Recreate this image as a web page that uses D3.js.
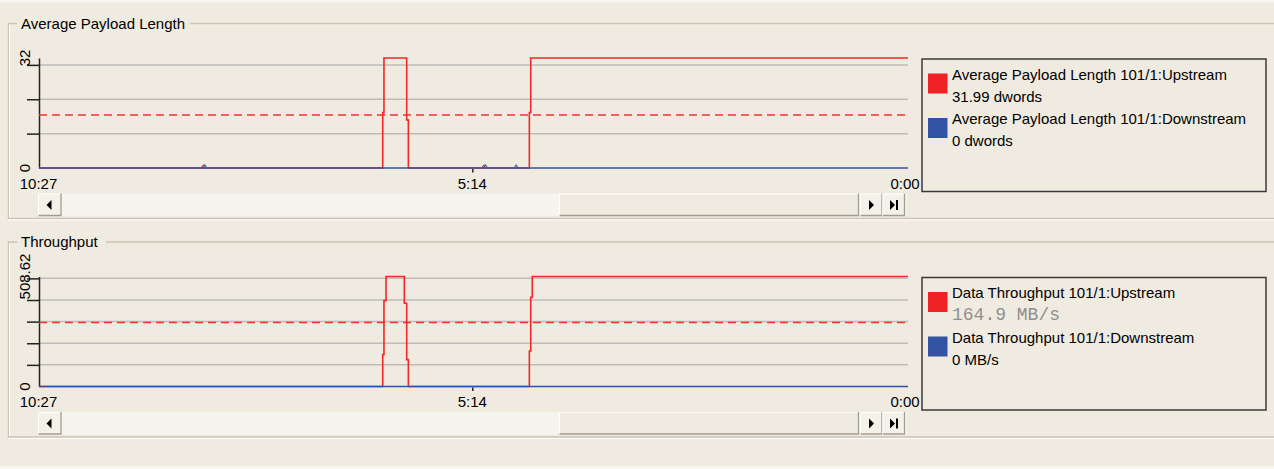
<!DOCTYPE html>
<html>
<head>
<meta charset="utf-8">
<script src="https://cdn.jsdelivr.net/npm/d3@7"></script>
<style>
  html, body { margin: 0; padding: 0; background: #f0ebe0; }
  svg { display: block; font-family: "Liberation Sans", Arial, sans-serif; }
</style>
</head>
<body>
<script>
// time span in seconds shown on the strip chart (labels count down to 0:00)
const spanSeconds = 627;
const timeTicks = [0, 313, 627];

// Average Payload Length panel (dwords)
const payloadMax = 32;
const payloadGrid = [10, 20, 30];
const payloadUpT = [0, 248.0, 248.9, 265.3, 266.5, 353.8, 354.8, 627];
const payloadUpV = [0, 16.1, 32, 14.0, 0, 16.1, 32, 32];
const payloadDownT = [0, 627];
const payloadDownV = [0, 0];
const payloadAvg = 15.4;
const payloadMarks = [119.3, 321.8, 343.9];
const payloadMarkUp = [true, true, false];

// Throughput panel (MB/s)
const thruMax = 508.62;
const thruGrid = [100, 200, 300, 400, 500];
const thruUpT = [0, 248.0, 248.9, 250.4, 263.6, 265.3, 266.5, 353.8, 354.8, 355.9, 627];
const thruUpV = [0, 147.5, 397, 508.62, 384.8, 124.2, 0, 164.3, 412.8, 508.62, 508.62];
const thruDownT = [0, 627];
const thruDownV = [0, 0];
const thruAvg = 296;

const panels = [
  {
    title: "Average Payload Length", titleW: 173, top: 0, max: payloadMax, maxLabel: "32", grid: payloadGrid,
    up: d3.zip(payloadUpT, payloadUpV), down: d3.zip(payloadDownT, payloadDownV), avg: payloadAvg,
    marks: payloadMarks, markUp: payloadMarkUp,
    legend: [
      { color: "#ee2222", name: "Average Payload Length 101/1:Upstream", value: "31.99 dwords", mono: false },
      { color: "#3352a3", name: "Average Payload Length 101/1:Downstream", value: "0 dwords", mono: false }
    ]
  },
  {
    title: "Throughput", titleW: 89, top: 218.5, max: thruMax, maxLabel: "508.62", grid: thruGrid,
    up: d3.zip(thruUpT, thruUpV), down: d3.zip(thruDownT, thruDownV), avg: thruAvg,
    marks: [], markUp: [],
    legend: [
      { color: "#ee2222", name: "Data Throughput 101/1:Upstream", value: "164.9 MB/s", mono: true },
      { color: "#3352a3", name: "Data Throughput 101/1:Downstream", value: "0 MB/s", mono: false }
    ]
  }
];

const width = 1274, height = 469;
const svg = d3.select("body").append("svg")
  .attr("width", width).attr("height", height);

svg.append("rect").attr("width", width).attr("height", height).attr("fill", "#f0ebe0");
svg.append("line").attr("x1", 0).attr("x2", width).attr("y1", 1).attr("y2", 1)
  .attr("stroke", "#f8f6f1").attr("stroke-width", 3);

const x = d3.scaleLinear().domain([0, spanSeconds]).range([39, 908]);
const fmt = t => {
  const s = spanSeconds - t;
  return Math.floor(s / 60) + ":" + d3.format("02d")(s % 60);
};

function raisedBox(g, x0, y0, w, h, face) {
  g.append("rect").attr("x", x0).attr("y", y0).attr("width", w).attr("height", h).attr("fill", face);
  g.append("path").attr("d", `M${x0 + 0.5},${y0 + h}V${y0 + 0.5}H${x0 + w}`)
    .attr("fill", "none").attr("stroke", "#ffffff");
  g.append("path").attr("d", `M${x0 + 0.5},${y0 + h - 0.5}H${x0 + w - 0.5}V${y0}`)
    .attr("fill", "none").attr("stroke", "#a29f90").attr("stroke-width", 1.3);
}

panels.forEach(p => {
  const g = svg.append("g").attr("transform", `translate(0,${p.top})`);
  const y = d3.scaleLinear().domain([0, p.max]).range([168, 58]);

  // group box frame
  const frame = g.append("g").attr("fill", "none");
  frame.append("path")
    .attr("d", `M17,23.5H8.5V218.5H${width}M${17 + p.titleW},23.5H${width}`)
    .attr("stroke", "#c9c5b6").attr("stroke-width", 1.5);
  frame.append("path")
    .attr("d", `M9.5,25V217.5M8,220H${width}`)
    .attr("stroke", "#ffffff").attr("stroke-width", 1);
  g.append("text").attr("x", 21).attr("y", 28.5)
    .attr("font-size", 15).attr("fill", "#000").text(p.title);

  // gridlines
  g.append("g").selectAll("line").data(p.grid).join("line")
    .attr("x1", 39).attr("x2", 908)
    .attr("y1", d => y(d)).attr("y2", d => y(d))
    .attr("stroke", "#bdbcb8").attr("stroke-width", 1.5);

  // y axis
  const axis = g.append("g").attr("transform", "translate(39,0)")
    .call(d3.axisLeft(y).tickValues(p.grid).tickSize(12).tickSizeOuter(0).tickFormat(""));
  axis.select(".domain").attr("stroke", "#222").attr("stroke-width", 1.5);
  axis.selectAll(".tick line").attr("stroke", "#222").attr("stroke-width", 1.5);

  g.append("text")
    .attr("transform", `translate(29.5,${y(p.max)}) rotate(-90)`)
    .attr("text-anchor", "middle").attr("font-size", 15).text(p.maxLabel);
  g.append("text")
    .attr("transform", `translate(29.5,${y(0)}) rotate(-90)`)
    .attr("text-anchor", "middle").attr("font-size", 15).text("0");

  // average dashed line
  g.append("line")
    .attr("x1", 39).attr("x2", 908)
    .attr("y1", y(p.avg)).attr("y2", y(p.avg))
    .attr("stroke", "#ee3333").attr("stroke-width", 1.5)
    .attr("stroke-dasharray", "8,5");

  const line = d3.line().x(d => x(d[0])).y(d => y(d[1])).curve(d3.curveStepAfter);
  g.append("path").datum(p.up).attr("d", line)
    .attr("fill", "none").attr("stroke", "#f02828").attr("stroke-width", 1.6);

  // little event marks sitting on the baseline
  const mk = g.append("g").selectAll("g").data(p.marks).join("g")
    .attr("transform", d => `translate(${x(d)},${y(0) - 1})`);
  mk.filter((d, i) => p.markUp[i]).append("path")
    .attr("d", "M-2.5,1A2.5,2.5 0 0 1 1,-1.5")
    .attr("fill", "none").attr("stroke", "#e23030").attr("stroke-width", 1.3);
  mk.append("path").attr("d", "M-1.5,1L0.5,-2L2.5,1")
    .attr("fill", "none").attr("stroke", "#3a58b0").attr("stroke-width", 1.1);

  g.append("path").datum(p.down).attr("d", line)
    .attr("fill", "none").attr("stroke", "#3352a3").attr("stroke-width", 1.6);

  // x axis: mid tick + labels
  g.append("line").attr("x1", x(timeTicks[1])).attr("x2", x(timeTicks[1]))
    .attr("y1", 169).attr("y2", 172.5).attr("stroke", "#222").attr("stroke-width", 1.5);
  g.append("g").selectAll("text").data(timeTicks).join("text")
    .attr("x", (d, i) => i === 2 ? 905 : x(d) - 0.5)
    .attr("y", 188.5).attr("text-anchor", "middle").attr("font-size", 15)
    .text(fmt);

  // legend
  const lg = g.append("g");
  lg.append("rect").attr("x", 922).attr("y", 59).attr("width", 344).attr("height", 132.5)
    .attr("fill", "none").attr("stroke", "#3a3a3a").attr("stroke-width", 1.5);
  const items = lg.selectAll("g").data(p.legend).join("g")
    .attr("transform", (d, i) => `translate(0,${i * 44.5})`);
  items.append("rect").attr("x", 928).attr("y", 73.5)
    .attr("width", 19.5).attr("height", 20).attr("fill", d => d.color);
  items.append("text").attr("x", 952).attr("y", 79.5)
    .attr("font-size", 15).text(d => d.name);
  items.append("text").attr("x", 952).attr("y", d => d.mono ? 101 : 101.5)
    .attr("font-size", d => d.mono ? 18 : 15)
    .attr("font-family", d => d.mono ? "'Liberation Mono', 'Courier New', monospace" : null)
    .attr("fill", d => d.mono ? "#8f8f8f" : "#000")
    .text(d => d.value);

  // scrollbar
  const sb = g.append("g");
  sb.append("rect").attr("x", 38).attr("y", 193.5).attr("width", 869).attr("height", 22.5)
    .attr("fill", "#f6f4ee");
  raisedBox(sb, 559, 193.5, 300, 22.5, "#f0ebe0");
  [[38, "left"], [860, "right"], [882.5, "end"]].forEach(([bx, kind]) => {
    raisedBox(sb, bx, 193.5, kind === "left" ? 23.5 : 22.5, 22.5, "#f4f1e8");
    const cx = bx + 11.5, cy = 205;
    if (kind === "left") {
      sb.append("path").attr("d", `M${cx - 3},${cy}L${cx + 2},${cy - 5}V${cy + 5}Z`).attr("fill", "#000");
    } else if (kind === "right") {
      sb.append("path").attr("d", `M${cx + 2.5},${cy}L${cx - 2.5},${cy - 5}V${cy + 5}Z`).attr("fill", "#000");
    } else {
      sb.append("path").attr("d", `M${cx + 1},${cy}L${cx - 4},${cy - 5}V${cy + 5}Z`).attr("fill", "#000");
      sb.append("rect").attr("x", cx + 2).attr("y", cy - 5).attr("width", 2).attr("height", 10).attr("fill", "#000");
    }
  });
});

svg.append("line").attr("x1", 0).attr("x2", width).attr("y1", 467.5).attr("y2", 467.5)
  .attr("stroke", "#f8f6f1").attr("stroke-width", 3);
</script>
</body>
</html>
